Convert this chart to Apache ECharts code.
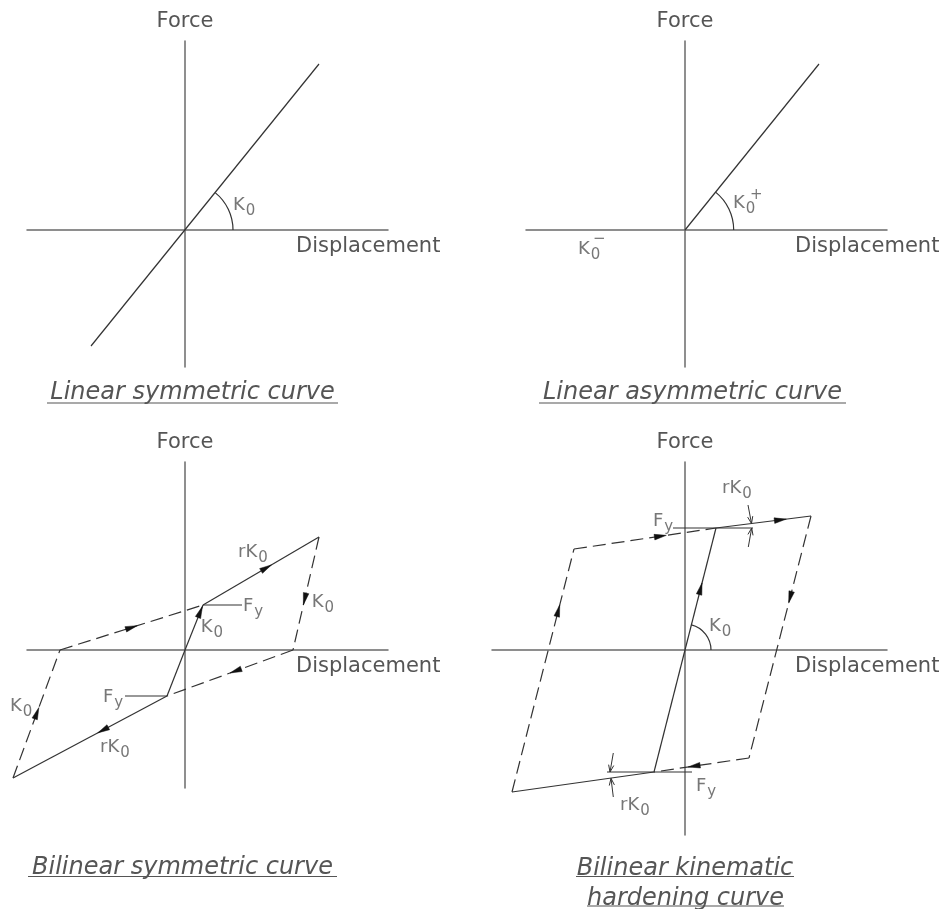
<!DOCTYPE html>
<html>
<head>
<meta charset="utf-8">
<script src="https://cdn.jsdelivr.net/npm/echarts@6/dist/echarts.min.js"></script>
<style>
  html, body { margin: 0; padding: 0; background: #fff; }
  #chart { width: 948px; height: 909px; }
</style>
</head>
<body>
<div id="chart"></div>
<script>
// ---------- Model data (displacement, force) in drawing units ----------

// Linear symmetric: one straight line through the origin
const linSymLine = [[-94, -116], [134, 166]];

// Linear asymmetric: stiffness only on the positive side
const linAsymLine = [[0, 0], [134, 166]];

// Bilinear symmetric hysteresis
const bsYieldPos = [18, 45];
const bsYieldNeg = [-18, -46];
const bsPeakPos = [134, 113];
const bsPeakNeg = [-172, -128];
const bsZeroPos = [108, 0];
const bsZeroNeg = [-125, 0];
const bsElastic = [bsYieldNeg, [0, 0], bsYieldPos];
const bsHardenPos = [bsYieldPos, bsPeakPos];
const bsHardenNeg = [bsYieldNeg, bsPeakNeg];
const bsUnload = [bsPeakPos, bsZeroPos, bsYieldNeg];
const bsReload = [bsPeakNeg, bsZeroNeg, bsYieldPos];
const bsFyPos = [bsYieldPos, [57, 45]];
const bsFyNeg = [bsYieldNeg, [-60, -46]];

// Bilinear kinematic hardening hysteresis
const bkYieldPos = [31, 122];
const bkYieldNeg = [-31, -122];
const bkPeakPos = [126, 134];
const bkPeakNeg = [-173, -142];
const bkRevPos = [64, -108];
const bkRevNeg = [-111, 101];
const bkElastic = [bkYieldNeg, [0, 0], bkYieldPos];
const bkHardenPos = [bkYieldPos, bkPeakPos];
const bkHardenNeg = [bkYieldNeg, bkPeakNeg];
const bkUnload = [bkPeakPos, bkRevPos, bkYieldNeg];
const bkReload = [bkPeakNeg, bkRevNeg, bkYieldPos];
const bkFyPos = [[-12, 122], [68, 122]];
const bkFyNeg = [[-78, -122], [7, -122]];
// dimension arrows marking the rK0 offset from the Fy level
const bkDims = [
  [[63, 145], [66.5, 126.5]],
  [[63.3, 103], [66.7, 122]],
  [[-71.7, -103], [-75, -122]],
  [[-71.7, -147], [-74, -128.3]]
];

// Direction arrows: [polyline, segment index, fraction along segment]
const bsArrows = [
  [bsElastic, 1, 0.97], [bsHardenPos, 0, 0.59], [bsUnload, 0, 0.6],
  [bsUnload, 1, 0.5], [bsHardenNeg, 0, 0.45], [bsReload, 0, 0.55], [bsReload, 1, 0.54]
];
const bkArrows = [
  [bkElastic, 1, 0.55], [bkHardenPos, 0, 0.74], [bkUnload, 0, 0.36],
  [bkUnload, 1, 0.64], [bkReload, 0, 0.77], [bkReload, 1, 0.65]
];

// Stiffness angle marks: [radius, point on the stiffness line]
const angleMarks = [
  [[48, 134, 166]],
  [[48.7, 134, 166]],
  [],
  [[26, 31, 122]]
];

// Text annotations: [rich text, x, y]
const K0 = '{m|K}{s|0}';
const rK0 = '{m|rK}{s|0}';
const Fy = '{m|F}{s|y}';
const notes = [
  [[K0, 48, 25]],
  [[K0, 48, 27], [K0, -107, -19.5]],
  [[rK0, 53, 98], [Fy, 58, 43.5], [K0, 15.7, 23], [K0, 126.7, 47.5],
   [K0, -175, -56.5], [Fy, -82, -47], [rK0, -85, -97.5]],
  [[K0, 24, 23.5], [Fy, -32, 129], [rK0, 37, 162], [Fy, 11, -136], [rK0, -65, -155.5]]
];
// superscript signs on the asymmetric stiffness labels
const signs = [[], [['+', 65, 34.5], ['\u2212', -92, -9]], [], []];

const titles = [
  ['Linear symmetric curve'],
  ['Linear asymmetric curve'],
  ['Bilinear symmetric curve'],
  ['Bilinear kinematic', 'hardening curve']
];

// ---------- Layout and styling ----------
const FONT = 'DejaVu Sans';
const TEXT = '#555';
const INK = '#333';
const AXIS = '#6a6a6a';
const DASH = [13, 6];

const panels = [
  { grid: { left: 27, top: 41, width: 361, height: 326 }, x: [-158, 203], y: [-137, 189] },
  { grid: { left: 526, top: 41, width: 361, height: 326 }, x: [-159, 202], y: [-137, 189] },
  { grid: { left: 27, top: 462, width: 361, height: 326 }, x: [-158, 203], y: [-138, 188] },
  { grid: { left: 492, top: 462, width: 395, height: 373 }, x: [-193, 202], y: [-185, 188] }
];
const titleLayout = [
  [{ cx: 192.5, y: 393, u: [47, 338, 403] }],
  [{ cx: 692.5, y: 393, u: [539, 846, 403] }],
  [{ cx: 182.5, y: 868, u: [28, 337, 876.5] }],
  [{ cx: 685, y: 868.5, u: [576, 794, 876.5] }, { cx: 685.5, y: 898.5, u: [587, 784, 906] }]
];

const nameStyle = { fontFamily: FONT, fontSize: 21, color: TEXT };

const series = [];

// Polyline branch drawn segment by segment through the panel's axes
// (custom series so branches may run past the axis ends without clipping)
function poly(i, pts, dashed) {
  const data = [];
  for (let k = 0; k < pts.length - 1; k++) {
    data.push([pts[k][0], pts[k][1], pts[k + 1][0], pts[k + 1][1]]);
  }
  series.push({
    type: 'custom', xAxisIndex: i, yAxisIndex: i, data, silent: true, z: 3, clip: false,
    renderItem: (params, api) => {
      const a = api.coord([api.value(0), api.value(1)]);
      const b = api.coord([api.value(2), api.value(3)]);
      return {
        type: 'line',
        shape: { x1: a[0], y1: a[1], x2: b[0], y2: b[1] },
        style: { stroke: INK, lineWidth: 1.2, lineDash: dashed ? DASH : null, fill: 'none' }
      };
    }
  });
}

function arrowSeries(i, list) {
  const data = list.map(([line, k, t]) => [line[k][0], line[k][1], line[k + 1][0], line[k + 1][1], t]);
  series.push({
    type: 'custom', xAxisIndex: i, yAxisIndex: i, data, silent: true, z: 4, clip: false,
    renderItem: (params, api) => {
      const a = api.coord([api.value(0), api.value(1)]);
      const b = api.coord([api.value(2), api.value(3)]);
      const t = api.value(4);
      const dx = b[0] - a[0], dy = b[1] - a[1];
      const L = Math.hypot(dx, dy), ux = dx / L, uy = dy / L;
      const tip = [a[0] + dx * t, a[1] + dy * t];
      const base = [tip[0] - ux * 12, tip[1] - uy * 12];
      const nx = -uy * 2.8, ny = ux * 2.8;
      return {
        type: 'polygon',
        shape: { points: [tip, [base[0] + nx, base[1] + ny], [base[0] - nx, base[1] - ny]] },
        style: { fill: '#111', stroke: '#111', lineWidth: 0.5 }
      };
    }
  });
}

function dimSeries(i, list) {
  const data = list.map(([p, q]) => [p[0], p[1], q[0], q[1]]);
  series.push({
    type: 'custom', xAxisIndex: i, yAxisIndex: i, data, silent: true, z: 4,
    renderItem: (params, api) => {
      const a = api.coord([api.value(0), api.value(1)]);
      const b = api.coord([api.value(2), api.value(3)]);
      const dx = b[0] - a[0], dy = b[1] - a[1];
      const L = Math.hypot(dx, dy), ux = dx / L, uy = dy / L;
      const base = [b[0] - ux * 7, b[1] - uy * 7];
      const nx = -uy * 2.6, ny = ux * 2.6;
      return {
        type: 'group',
        children: [
          { type: 'line', shape: { x1: a[0], y1: a[1], x2: b[0], y2: b[1] }, style: { stroke: INK, lineWidth: 1 } },
          { type: 'polyline', shape: { points: [[base[0] + nx, base[1] + ny], b, [base[0] - nx, base[1] - ny]] },
            style: { stroke: INK, lineWidth: 1, fill: 'none' } }
        ]
      };
    }
  });
}

function arcSeries(i, list) {
  if (!list.length) return;
  series.push({
    type: 'custom', xAxisIndex: i, yAxisIndex: i, data: list, silent: true, z: 3,
    renderItem: (params, api) => {
      const c = api.coord([0, 0]);
      const e = api.coord([api.value(0), 0]);
      const p = api.coord([api.value(1), api.value(2)]);
      const ang = Math.atan2(p[1] - c[1], p[0] - c[0]);
      return {
        type: 'arc',
        shape: { cx: c[0], cy: c[1], r: e[0] - c[0], startAngle: ang, endAngle: 0, clockwise: true },
        style: { stroke: INK, fill: 'none', lineWidth: 1.2 }
      };
    }
  });
}

function noteSeries(i, list, size) {
  if (!list.length) return;
  series.push({
    type: 'scatter', xAxisIndex: i, yAxisIndex: i, symbolSize: 0, silent: true, z: 5, clip: false,
    data: list.map(([txt, x, y]) => ({ value: [x, y], name: txt })),
    label: {
      show: true, position: [0, 0], align: 'left', verticalAlign: 'middle',
      formatter: (p) => p.name, color: TEXT, fontFamily: FONT, fontSize: size,
      rich: {
        m: { fontFamily: FONT, fontSize: 18, color: TEXT },
        s: { fontFamily: FONT, fontSize: 15, color: TEXT, padding: [12, 0, 0, 1] }
      }
    }
  });
}

// Linear symmetric
poly(0, linSymLine, false);
// Linear asymmetric
poly(1, linAsymLine, false);
// Bilinear symmetric
poly(2, bsElastic, false);
poly(2, bsHardenPos, false);
poly(2, bsHardenNeg, false);
poly(2, bsUnload, true);
poly(2, bsReload, true);
poly(2, bsFyPos, false);
poly(2, bsFyNeg, false);
arrowSeries(2, bsArrows);
// Bilinear kinematic hardening
poly(3, bkElastic, false);
poly(3, bkHardenPos, false);
poly(3, bkHardenNeg, false);
poly(3, bkUnload, true);
poly(3, bkReload, true);
poly(3, bkFyPos, false);
poly(3, bkFyNeg, false);
arrowSeries(3, bkArrows);
dimSeries(3, bkDims);

for (let i = 0; i < 4; i++) {
  arcSeries(i, angleMarks[i]);
  noteSeries(i, notes[i], 18);
  noteSeries(i, signs[i], 15);
}

const graphic = [];
titles.forEach((lines, i) => {
  lines.forEach((txt, j) => {
    const L = titleLayout[i][j];
    graphic.push({
      type: 'text', x: L.cx, y: L.y, silent: true,
      style: { text: txt, fontFamily: FONT, fontSize: 24, fontStyle: 'italic', fill: TEXT, align: 'center', verticalAlign: 'middle' }
    });
    graphic.push({
      type: 'line', silent: true,
      shape: { x1: L.u[0], y1: L.u[2], x2: L.u[1], y2: L.u[2] },
      style: { stroke: TEXT, lineWidth: 1.2 }
    });
  });
});

const chart = echarts.init(document.getElementById('chart'), null, { renderer: 'canvas' });
chart.setOption({
  animation: false,
  backgroundColor: '#fff',
  grid: panels.map(p => Object.assign({ containLabel: false, outerBoundsMode: 'none' }, p.grid)),
  xAxis: panels.map((p, i) => ({
    type: 'value', gridIndex: i, min: p.x[0], max: p.x[1],
    axisLine: { onZero: true, lineStyle: { color: AXIS, width: 1.5 } },
    axisTick: { show: false }, axisLabel: { show: false }, splitLine: { show: false },
    name: 'Displacement', nameLocation: 'end', nameGap: -92,
    nameTextStyle: Object.assign({ align: 'left', verticalAlign: 'top', lineHeight: 34 }, nameStyle)
  })),
  yAxis: panels.map((p, i) => ({
    type: 'value', gridIndex: i, min: p.y[0], max: p.y[1],
    axisLine: { onZero: true, lineStyle: { color: AXIS, width: 1.5 } },
    axisTick: { show: false }, axisLabel: { show: false }, splitLine: { show: false },
    name: 'Force', nameLocation: 'end', nameGap: 9,
    nameTextStyle: nameStyle
  })),
  series,
  graphic
});
</script>
</body>
</html>
